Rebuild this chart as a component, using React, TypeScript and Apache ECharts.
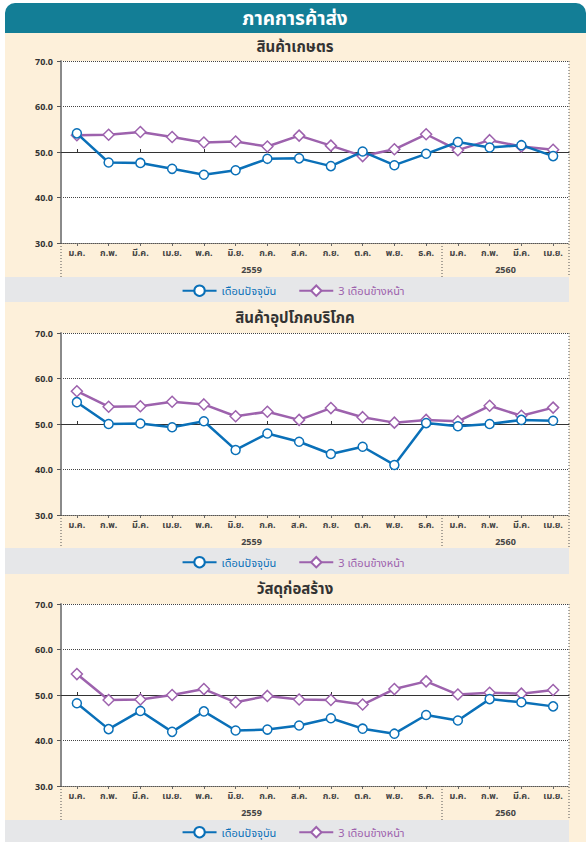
import React, { useEffect, useRef } from "react";
import * as echarts from "echarts";

const months = ["ม.ค.", "ก.พ.", "มี.ค.", "เม.ย.", "พ.ค.", "มิ.ย.", "ก.ค.", "ส.ค.", "ก.ย.", "ต.ค.", "พ.ย.", "ธ.ค.", "ม.ค.", "ก.พ.", "มี.ค.", "เม.ย."];
const years = ["2559", "2560"];
const yearSpans = [12, 4];
const seriesNames = ["เดือนปัจจุบัน", "3 เดือนข้างหน้า"];
const panelTitles = ["สินค้าเกษตร", "สินค้าอุปโภคบริโภค", "วัสดุก่อสร้าง"];
const mainTitle = "ภาคการค้าส่ง";

const agriCurrent = [54.1, 47.7, 47.6, 46.3, 45.0, 46.0, 48.5, 48.6, 46.9, 50.1, 47.1, 49.6, 52.2, 51.0, 51.5, 49.1];
const agriNext = [53.7, 53.8, 54.4, 53.3, 52.1, 52.3, 51.2, 53.6, 51.4, 49.1, 50.6, 53.9, 50.4, 52.6, 51.2, 50.5];
const consCurrent = [54.8, 50.0, 50.1, 49.3, 50.6, 44.3, 47.9, 46.1, 43.4, 45.0, 41.0, 50.2, 49.5, 50.0, 50.9, 50.7];
const consNext = [57.2, 53.8, 53.9, 54.9, 54.3, 51.7, 52.7, 50.9, 53.5, 51.5, 50.3, 50.9, 50.6, 54.0, 51.8, 53.6];
const buildCurrent = [48.2, 42.5, 46.5, 41.9, 46.4, 42.2, 42.4, 43.3, 44.9, 42.6, 41.5, 45.6, 44.4, 49.1, 48.4, 47.5];
const buildNext = [54.6, 48.9, 49.0, 50.0, 51.3, 48.4, 49.8, 49.0, 48.9, 47.9, 51.3, 53.0, 50.1, 50.5, 50.3, 51.1];

const panelData = [
  [agriCurrent, agriNext],
  [consCurrent, consNext],
  [buildCurrent, buildNext],
];

const yTicks = [30, 70, 10];

const W = 586;
const H = 842;
const GRID_LEFT = 61;
const GRID_RIGHT_X = 569;
const GRID_W = GRID_RIGHT_X - GRID_LEFT;
const panelTop = [61, 333, 604];
const PLOT_H = 182;
const titleY = [46, 317, 588];
const bandTop = [277, 548, 820];
const bandBottom = [302, 574, 842];

const TEAL = "#137e96";
const CREAM = "#fdf0da";
const GREY = "#e6e7e9";
const BLUE = "#0a70b8";
const PURPLE = "#9d62ad";
const FONT = "'Noto Sans', 'Noto Sans Thai', Tahoma, sans-serif";

export default function App() {
  const ref = useRef<HTMLDivElement>(null);

  useEffect(() => {
    document.body.style.margin = "0";
    if (!ref.current) return;
    const chart = echarts.init(ref.current, null, { renderer: "svg" });

    const grids: any[] = [];
    const xAxes: any[] = [];
    const yAxes: any[] = [];
    const series: any[] = [];
    const legends: any[] = [];
    const graphics: any[] = [];

    graphics.push({ type: "rect", z: -10, shape: { x: 5, y: 20, width: W - 5, height: H - 20 }, style: { fill: CREAM } });
    graphics.push({ type: "rect", z: -9, shape: { x: 5, y: 3, width: W - 5, height: 30, r: [10, 10, 0, 0] }, style: { fill: TEAL } });
    graphics.push({
      type: "text", z: 10, x: 295, y: 18,
      style: { text: mainTitle, fill: "#ffffff", font: `bold 19px ${FONT}`, align: "center", verticalAlign: "middle" },
    });

    const cat = GRID_W / months.length;

    for (let p = 0; p < 3; p++) {
      const top = panelTop[p];
      const bottom = top + PLOT_H;
      grids.push({ left: GRID_LEFT, top, width: GRID_W, height: PLOT_H, show: true, backgroundColor: "#ffffff", borderWidth: 0 });
      grids.push({ left: GRID_LEFT, top, width: GRID_W, height: PLOT_H / 2, show: false });

      xAxes.push({
        type: "category", gridIndex: p * 2, data: months, boundaryGap: true,
        axisLine: { show: true, lineStyle: { color: "#555", width: 1, type: "dotted" } },
        axisTick: { show: true, alignWithLabel: true, length: 3, lineStyle: { color: "#666" } },
        axisLabel: { color: "#444", fontSize: 9, fontWeight: "bold", fontFamily: FONT, margin: 5, interval: 0 },
        splitLine: { show: false },
      });
      xAxes.push({
        type: "category", gridIndex: p * 2 + 1, data: months, boundaryGap: true,
        axisLine: { show: true, lineStyle: { color: "#333", width: 1, type: "solid" } },
        axisTick: { show: true, alignWithLabel: true, length: 3, inside: true, lineStyle: { color: "#333" } },
        axisLabel: { show: false },
        splitLine: { show: false },
      });
      yAxes.push({
        type: "value", gridIndex: p * 2, min: yTicks[0], max: yTicks[1], interval: yTicks[2],
        axisLine: { show: true, lineStyle: { color: "#8a8a8a", width: 2 } },
        axisTick: { show: true, length: 4, lineStyle: { color: "#555" } },
        axisLabel: { color: "#333", fontSize: 9, fontWeight: "bold", fontFamily: FONT, margin: 8, formatter: (v: number) => v.toFixed(1) },
        splitLine: { show: true, lineStyle: { color: "#444", width: 1, type: "dotted" } },
      });
      yAxes.push({ type: "value", gridIndex: p * 2 + 1, show: false, min: 0, max: 1, splitLine: { show: false } });

      const [cur, nxt] = panelData[p];
      series.push({
        type: "line", name: seriesNames[0], xAxisIndex: p * 2, yAxisIndex: p * 2, data: cur, z: 4,
        symbol: "circle", symbolSize: 9,
        lineStyle: { color: BLUE, width: 2.5 },
        itemStyle: { color: "#ffffff", borderColor: BLUE, borderWidth: 1.5 },
      });
      series.push({
        type: "line", name: seriesNames[1], xAxisIndex: p * 2, yAxisIndex: p * 2, data: nxt, z: 3,
        symbol: "diamond", symbolSize: 11,
        lineStyle: { color: PURPLE, width: 2.5 },
        itemStyle: { color: "#ffffff", borderColor: PURPLE, borderWidth: 1.5 },
      });

      legends.push({
        top: (bandTop[p] + bandBottom[p]) / 2 - 10, left: "center",
        itemWidth: 34, itemHeight: 13, itemGap: 22,
        data: [
          { name: seriesNames[0], textStyle: { color: BLUE } },
          { name: seriesNames[1], textStyle: { color: PURPLE } },
        ],
        textStyle: { fontSize: 11, fontFamily: FONT, fontWeight: "normal" },
      });

      graphics.push({ type: "rect", z: -8, shape: { x: 5, y: bandTop[p], width: GRID_RIGHT_X - 5, height: bandBottom[p] - bandTop[p] }, style: { fill: GREY } });
      graphics.push({
        type: "text", z: 10, x: 295, y: titleY[p],
        style: { text: panelTitles[p], fill: "#333", font: `bold 15px ${FONT}`, align: "center", verticalAlign: "middle" },
      });

      let start = 0;
      const dot = { stroke: "#555", lineWidth: 1, lineDash: [1, 2] };
      graphics.push({ type: "line", z: 5, shape: { x1: GRID_LEFT, y1: bottom, x2: GRID_LEFT, y2: bandTop[p] }, style: dot });
      graphics.push({ type: "line", z: 5, shape: { x1: GRID_RIGHT_X, y1: top, x2: GRID_RIGHT_X, y2: bandTop[p] }, style: dot });
      for (let g = 0; g < years.length; g++) {
        const end = start + yearSpans[g];
        const cx = GRID_LEFT + ((start + end) / 2) * cat;
        graphics.push({
          type: "text", z: 10, x: cx, y: bottom + 26,
          style: { text: years[g], fill: "#444", font: `bold 9px ${FONT}`, align: "center", verticalAlign: "middle" },
        });
        if (g < years.length - 1) {
          const sx = GRID_LEFT + end * cat;
          graphics.push({ type: "line", z: 5, shape: { x1: sx, y1: bottom, x2: sx, y2: bandTop[p] }, style: dot });
        }
        start = end;
      }
    }

    chart.setOption({
      animation: false,
      backgroundColor: "#ffffff",
      grid: grids,
      xAxis: xAxes,
      yAxis: yAxes,
      series,
      legend: legends,
      graphic: graphics,
    });

    return () => chart.dispose();
  }, []);

  return <div ref={ref} style={{ position: "absolute", left: 0, top: 0, width: W, height: H }} />;
}
